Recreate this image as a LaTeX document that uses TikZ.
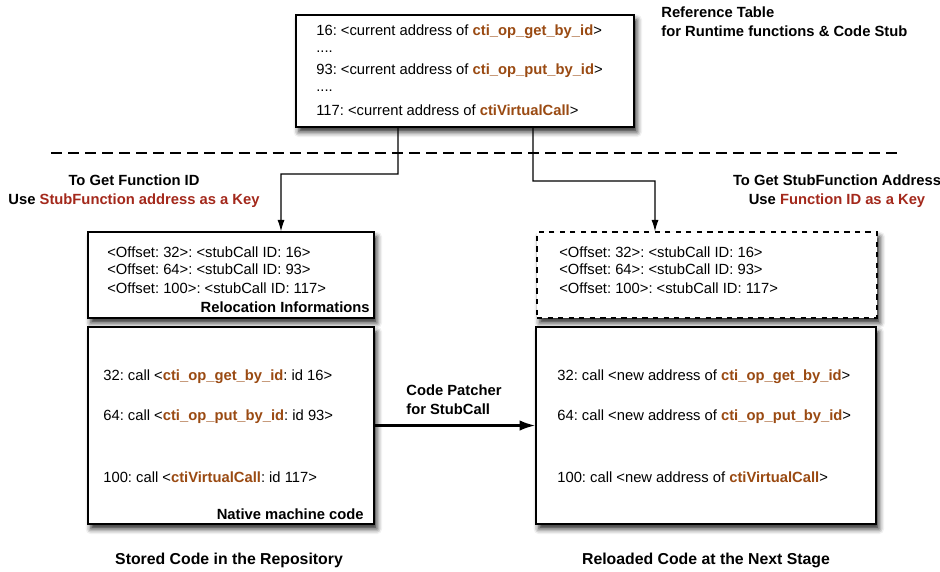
\documentclass[tikz,border=0pt]{standalone}
\usepackage{fontspec}
\setmainfont{Liberation Sans}
\usetikzlibrary{shadows.blur,arrows.meta}

\definecolor{fnorange}{HTML}{9A4A12}
\definecolor{keyred}{HTML}{A3281B}
\newcommand{\fname}[1]{\textbf{\textcolor{fnorange}{#1}}}
\newcommand{\keyname}[1]{\textbf{\textcolor{keyred}{#1}}}
\frenchspacing

\begin{document}
\begin{tikzpicture}[
			box/.style={
				rectangle,
				draw,
				line width=0.7pt,
				fill=white,
				inner sep=0pt,
				blur shadow={shadow xshift=1.6pt, shadow yshift=-2.8pt, shadow blur radius=3pt, shadow opacity=85},
			},
			txt/.style={anchor=west, inner sep=0pt, font=\fontsize{8.4}{11}\selectfont},
			lbl/.style={inner sep=0pt, align=center, font=\fontsize{8.4}{10.8}\selectfont\bfseries},
			ArrowL/.style={% plain elbow arrows
				-{Latex[length=6.5pt,width=4pt]},
				line width=0.6pt,
			},
			]
				\useasboundingbox (0,0) rectangle (18.8,-11.42);
				
				% reference table
				\node[box, minimum width=6.76cm, minimum height=2.24cm] (table) at (9.30,-1.42) {};
				\node[txt] (t16) at (6.32,-0.64) {16: <current address of \fname{cti\_op\_get\_by\_id}>};
				\node[txt] (td1) at (6.32,-1.04) {....};
				\node[txt] (t93) at (6.32,-1.42) {93: <current address of \fname{cti\_op\_put\_by\_id}>};
				\node[txt] (td2) at (6.32,-1.82) {....};
				\node[txt] (t117) at (6.32,-2.20) {117: <current address of \fname{ctiVirtualCall}>};
				\node[lbl, anchor=north west, align=left] (tlbl) at (13.22,-0.12) {Reference Table\\for Runtime functions \& Code Stub};
				
				% separator
				\coordinate (sepl) at (1.02,-3.06);
				\coordinate (sepr) at (18.02,-3.06);
				\draw[line width=0.6pt, dash pattern=on 6.3pt off 3.4pt] (sepl) -- (sepr);
				
				% key labels
				\node[lbl] (keyl) at (2.68,-3.83) {To Get Function ID\\Use \keyname{StubFunction address as a Key}};
				\node[lbl] (keyr) at (16.74,-3.83) {To Get StubFunction Address\\Use \keyname{Function ID as a Key}};
				
				% relocation informations
				\node[box, minimum width=5.72cm, minimum height=1.72cm] (relocl) at (4.62,-5.50) {};
				\node[txt] (rl32) at (2.14,-5.04) {<Offset: 32>: <stubCall ID: 16>};
				\node[txt] (rl64) at (2.14,-5.38) {<Offset: 64>: <stubCall ID: 93>};
				\node[txt] (rl100) at (2.14,-5.76) {<Offset: 100>: <stubCall ID: 117>};
				\node[lbl, anchor=east] (rlbl) at (7.40,-6.14) {Relocation Informations};
				
				\node[box, dashed, minimum width=6.80cm, minimum height=1.72cm] (relocr) at (14.14,-5.50) {};
				\node[txt] (rr32) at (11.18,-5.04) {<Offset: 32>: <stubCall ID: 16>};
				\node[txt] (rr64) at (11.18,-5.38) {<Offset: 64>: <stubCall ID: 93>};
				\node[txt] (rr100) at (11.18,-5.76) {<Offset: 100>: <stubCall ID: 117>};
				
				% native code
				\node[box, minimum width=5.72cm, minimum height=3.94cm] (codel) at (4.62,-8.51) {};
				\node[txt] (cl32) at (2.06,-7.54) {32: call <\fname{cti\_op\_get\_by\_id}: id 16>};
				\node[txt] (cl64) at (2.06,-8.34) {64: call <\fname{cti\_op\_put\_by\_id}: id 93>};
				\node[txt] (cl100) at (2.06,-9.54) {100: call <\fname{ctiVirtualCall}: id 117>};
				\node[lbl, anchor=east] (clbl) at (7.28,-10.28) {Native machine code};
				
				\node[box, minimum width=6.80cm, minimum height=3.94cm] (coder) at (14.12,-8.51) {};
				\node[txt] (cr32) at (11.14,-7.54) {32: call <new address of \fname{cti\_op\_get\_by\_id}>};
				\node[txt] (cr64) at (11.14,-8.34) {64: call <new address of \fname{cti\_op\_put\_by\_id}>};
				\node[txt] (cr100) at (11.14,-9.54) {100: call <new address of \fname{ctiVirtualCall}>};
				
				% captions
				\node[lbl, font=\fontsize{9}{11}\selectfont\bfseries] (capl) at (4.58,-11.20) {Stored Code in the Repository};
				\node[lbl, font=\fontsize{9}{11}\selectfont\bfseries] (capr) at (14.12,-11.20) {Reloaded Code at the Next Stage};
				\node[lbl, anchor=west, align=left] (patch) at (8.12,-8.00) {Code Patcher\\for StubCall};
				
				% lookups
				\coordinate (bendl) at (7.96,-3.48);
				\coordinate (bendr) at (10.66,-3.62);
				\draw[ArrowL] ([xshift=-1.34cm]table.south) -- (bendl) -| ([xshift=1.0cm]relocl.north);
				\draw[ArrowL] ([xshift=1.36cm]table.south) -- (bendr) -| ([xshift=-1.04cm]relocr.north);
				
				% patching
				\draw[-{Latex[length=9pt,width=6pt]}, line width=1.4pt] (codel.east) -- (coder.west);
			\end{tikzpicture}
\end{document}
